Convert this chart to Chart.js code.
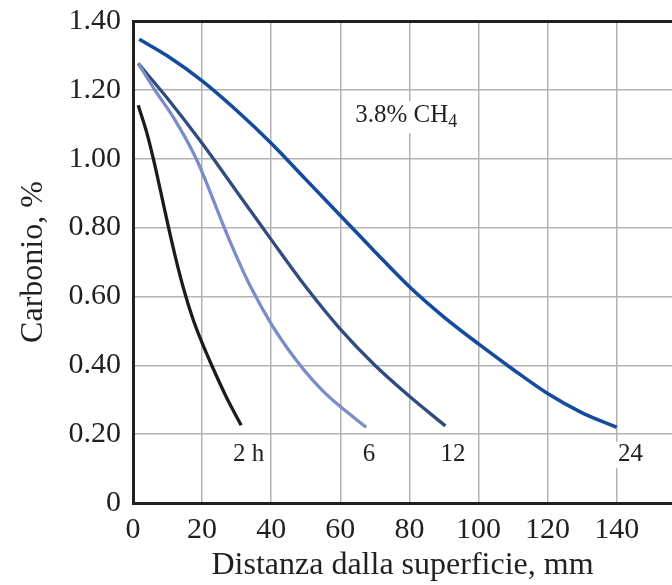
<!DOCTYPE html>
<html>
<head>
<meta charset="utf-8">
<script src="https://cdn.jsdelivr.net/npm/chart.js@4/dist/chart.umd.min.js"></script>
<style>
    body { margin: 0; background: #fff; }
    #wrap { width: 672px; height: 585px; }
</style>
</head>
<body>
<div id="wrap"><canvas id="carbChart"></canvas></div>
<script>
// distance from surface (mm) and carbon (%)
const dist2h  = [1.5, 4, 6, 8, 10.2, 12.5, 15, 17.5, 20, 23, 27, 31.3];
const carb2h  = [1.155, 1.075, 0.995, 0.905, 0.804, 0.705, 0.61, 0.53, 0.465, 0.395, 0.308, 0.226];
const dist6h  = [1.5, 6.3, 12, 18.3, 22, 26, 30, 34.2, 40, 45, 50, 55, 60, 67.5];
const carb6h  = [1.277, 1.2, 1.115, 1.0, 0.912, 0.81, 0.715, 0.625, 0.52, 0.445, 0.38, 0.325, 0.28, 0.22];
const dist12h = [1.5, 10, 20, 30, 40, 50, 60, 70, 80, 90.4];
const carb12h = [1.277, 1.175, 1.045, 0.905, 0.765, 0.628, 0.505, 0.40, 0.31, 0.224];
const dist24h = [1.8, 10, 20, 30, 40, 50, 60, 70, 80, 90, 100, 110, 120, 130, 140];
const carb24h = [1.347, 1.298, 1.226, 1.14, 1.045, 0.94, 0.835, 0.73, 0.628, 0.54, 0.462, 0.388, 0.318, 0.262, 0.22];

const xTicks = [0, 20, 40, 60, 80, 100, 120, 140];
const yTicks = [0, 0.2, 0.4, 0.6, 0.8, 1.0, 1.2, 1.4];
const yTickLabels = ['0', '0.20', '0.40', '0.60', '0.80', '1.00', '1.20', '1.40'];

const serif = '"Liberation Serif", "DejaVu Serif", serif';
const ink = '#231f20';

function pts(xs, ys) {
    return xs.map((x, i) => ({ x: x, y: ys[i] }));
}

function series(label, xs, ys, color, w) {
    return {
        label: label,
        data: pts(xs, ys),
        borderColor: color,
        backgroundColor: color,
        borderWidth: w,
        pointRadius: 0,
        showLine: true,
        cubicInterpolationMode: 'monotone',
        borderCapStyle: 'butt'
    };
}

// curve labels, drawn in data units
const curveLabels = {
    id: 'curveLabels',
    afterDatasetsDraw(chart) {
        const c = chart.ctx;
        const xs = chart.scales.x, ys = chart.scales.y;
        c.save();
        c.font = '25px ' + serif;
        c.textBaseline = 'middle';
        c.textAlign = 'center';
        const marks = [['2 h', 33.5], ['6', 68.3], ['12', 92.6], ['24', 144]];
        marks.forEach(([t, xv]) => {
            const px = xs.getPixelForValue(xv);
            const py = ys.getPixelForValue(0.14);
            const w = c.measureText(t).width;
            c.fillStyle = '#fff';
            c.fillRect(px - w / 2 - 2, py - 13, w + 4, 26);
            c.fillStyle = ink;
            c.fillText(t, px, py);
        });
        // 3.8% CH4 with subscript
        c.textAlign = 'left';
        const px = xs.getPixelForValue(64.3);
        const py = ys.getPixelForValue(1.126);
        const main = '3.8% CH';
        const wMain = c.measureText(main).width;
        c.fillStyle = '#fff';
        c.fillRect(px - 2, py - 14, wMain + 18, 32);
        c.fillStyle = ink;
        c.fillText(main, px, py);
        c.font = '18px ' + serif;
        c.fillText('4', px + wMain, py + 7);
        c.restore();
    }
};

const ctx = document.getElementById('carbChart').getContext('2d');
new Chart(ctx, {
    type: 'scatter',
    data: {
        datasets: [
            series('2 h', dist2h, carb2h, '#1b1b1b', 3.3),
            series('6 h', dist6h, carb6h, '#7b8cc8', 3.3),
            series('12 h', dist12h, carb12h, '#2f4b80', 3.3),
            series('24 h', dist24h, carb24h, '#144b9c', 3.6)
        ]
    },
    options: {
        responsive: true,
        maintainAspectRatio: false,
        animation: false,
        layout: { padding: { top: 21, left: 14, right: 0, bottom: 0 } },
        plugins: {
            legend: { display: false },
            tooltip: { enabled: false }
        },
        scales: {
            x: {
                type: 'linear',
                min: 0,
                max: 156,
                afterBuildTicks: (scale) => { scale.ticks = xTicks.map(v => ({ value: v })); },
                afterFit: (scale) => { scale.height = 82; scale.paddingLeft = 0; scale.paddingRight = 0; },
                ticks: {
                    color: ink,
                    font: { family: serif, size: 30 },
                    padding: 9,
                    maxRotation: 0
                },
                grid: { color: '#b3b3b3', lineWidth: 1.5, drawTicks: false },
                border: { color: '#231f20', width: 3 },
                title: {
                    display: true,
                    text: 'Distanza dalla superficie, mm',
                    color: ink,
                    font: { family: serif, size: 32 },
                    padding: { top: 0, bottom: 0 }
                }
            },
            y: {
                type: 'linear',
                min: 0,
                max: 1.4,
                afterBuildTicks: (scale) => { scale.ticks = yTicks.map(v => ({ value: v })); },
                afterFit: (scale) => { scale.width = 119; scale.paddingTop = 0; scale.paddingBottom = 0; },
                ticks: {
                    color: ink,
                    font: { family: serif, size: 30 },
                    padding: 12,
                    callback: (v) => yTickLabels[yTicks.indexOf(v)]
                },
                grid: {
                    drawTicks: false,
                    color: (c) => (c.tick && c.tick.value === 1.4) ? '#231f20' : '#b3b3b3',
                    lineWidth: (c) => (c.tick && c.tick.value === 1.4) ? 3 : 1.5
                },
                border: { color: '#231f20', width: 3 },
                title: {
                    display: true,
                    text: 'Carbonio, %',
                    color: ink,
                    font: { family: serif, size: 32 },
                    padding: { top: 0, bottom: 4 }
                }
            }
        }
    },
    plugins: [curveLabels]
});
</script>
</body>
</html>
